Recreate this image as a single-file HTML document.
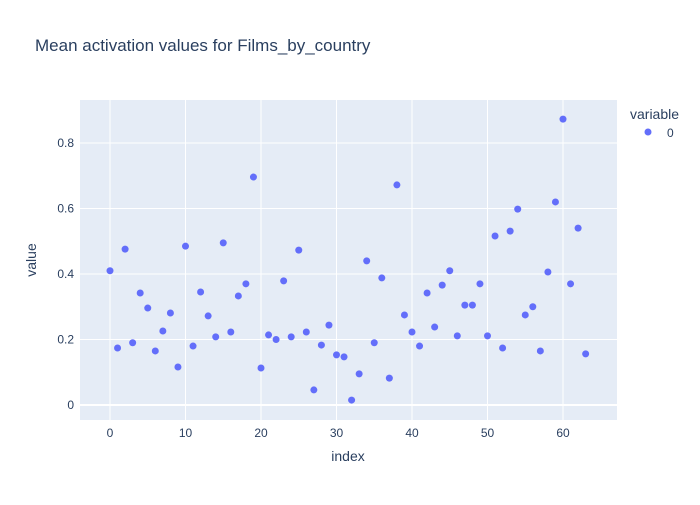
<!DOCTYPE html>
<html><head><meta charset="utf-8"><style>
body{margin:0;background:#fff;font-family:"Liberation Sans",sans-serif}
text{font-family:"Liberation Sans",sans-serif;fill:#2a3f5f}
</style></head><body>
<svg width="700" height="500">
<rect x="80" y="100" width="537" height="320" fill="#e5ecf6"/>
<g id="grid"></g>
<g id="pts"></g>
<g id="xt"></g><g id="yt"></g>
<text x="35" y="51" font-size="17">Mean activation values for Films_by_country</text>
<text x="348" y="461" font-size="14" text-anchor="middle">index</text>
<text x="36" y="260" font-size="14" text-anchor="middle" transform="rotate(-90 36 260)">value</text>
<text x="630" y="119" font-size="14">variable</text>
<g><circle cx="648" cy="132" r="3.5" fill="#636efa"/><text x="667" y="137" font-size="12">0</text></g>
</svg>
<script>
const values=[0.41,0.174,0.476,0.19,0.342,0.296,0.165,0.226,0.281,0.116,0.485,0.18,0.345,0.272,0.208,0.495,0.223,0.333,0.37,0.696,0.113,0.214,0.2,0.379,0.208,0.473,0.223,0.046,0.183,0.244,0.153,0.147,0.015,0.095,0.44,0.19,0.388,0.082,0.672,0.275,0.223,0.18,0.342,0.238,0.366,0.41,0.211,0.305,0.305,0.37,0.211,0.516,0.174,0.531,0.598,0.275,0.3,0.165,0.406,0.62,0.873,0.37,0.54,0.156];
const xTicks=[0,10,20,30,40,50,60];
const yTicks=[0,0.2,0.4,0.6,0.8];
const NS="http://www.w3.org/2000/svg";
const xs=v=>110+v*(453/60);
const ys=v=>405-v*327.5;
function mk(t,a,p){const e=document.createElementNS(NS,t);for(const k in a)e.setAttribute(k,a[k]);document.getElementById(p).appendChild(e);return e;}
xTicks.forEach(t=>{
 const l=mk('line',{x1:xs(t),x2:xs(t),y1:100,y2:420,stroke:'#fff','stroke-width':1},'grid');
 
 
 const tx=mk('text',{x:xs(t),y:437,'font-size':12,'text-anchor':'middle'},'xt');tx.textContent=t;
 
 
});
yTicks.forEach(t=>{
 const l=mk('line',{x1:80,x2:617,y1:ys(t),y2:ys(t),stroke:'#fff','stroke-width':t===0?2:1},'grid');
 
 
 const tx=mk('text',{x:74,y:ys(t)+4,'font-size':12,'text-anchor':'end'},'yt');tx.textContent=t;
 
 
});
values.forEach((v,i)=>{
 const c=mk('circle',{cx:xs(i),cy:ys(v),r:3.5,fill:'#636efa'},'pts');
 
 
});
</script>
</body></html>
